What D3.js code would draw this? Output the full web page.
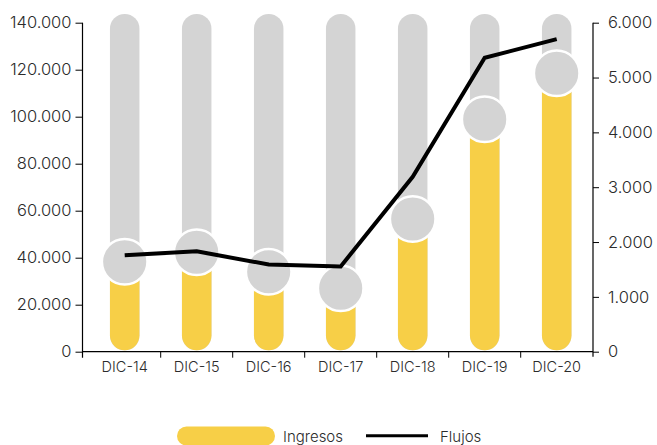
<!DOCTYPE html>
<html><head><meta charset="utf-8">
<script src="https://cdn.jsdelivr.net/npm/d3@7"></script>
<style>
html,body{margin:0;padding:0;background:#fff;}
svg{display:block;font-family:Inter,"Open Sans",sans-serif;}
</style></head>
<body><svg id="c" width="657" height="445"></svg>
<script>
const categories = ["DIC-14","DIC-15","DIC-16","DIC-17","DIC-18","DIC-19","DIC-20"];
const ingresos = [38300, 42300, 34000, 27000, 56500, 98900, 118500];
const flujos = [1760, 1830, 1590, 1555, 3190, 5360, 5700];
const backgroundMax = 143700;
const leftTicks = [0,20000,40000,60000,80000,100000,120000,140000];
const rightTicks = [0,1000,2000,3000,4000,5000,6000];
const legendLabels = ["Ingresos","Flujos"];

const loc = d3.formatLocale({decimal:",", thousands:".", grouping:[3], currency:["",""]});
const fmt = loc.format(",d");

const svg = d3.select("#c");
const yLeftX = 82.5, yRightX = 593, y0 = 351.7, yTop = 22.7;
const x = d3.scaleBand().domain(categories).range([88.7, 592.7]).paddingInner(0).paddingOuter(0);
const yL = d3.scaleLinear().domain([0,140000]).range([y0, yTop]);
const yR = d3.scaleLinear().domain([0,6000]).range([y0, yTop]);
const barW = 29.5;
const cx = d => x(d) + x.bandwidth()/2;

const gray = "#d4d4d4", yellow = "#f7cf47", txt = "#2b2b2b";

// background bars
svg.append("g").selectAll("rect").data(categories).join("rect")
  .attr("x", d => cx(d) - barW/2).attr("width", barW)
  .attr("y", yL(backgroundMax)).attr("height", yL(0) - 1.5 - yL(backgroundMax))
  .attr("rx", barW/2).attr("fill", gray);

// yellow bars
svg.append("g").selectAll("rect").data(ingresos).join("rect")
  .attr("x", (d,i) => cx(categories[i]) - barW/2).attr("width", barW)
  .attr("y", d => yL(d)).attr("height", d => yL(0) - 1.5 - yL(d))
  .attr("rx", barW/2).attr("fill", yellow);

// circles
svg.append("g").selectAll("circle").data(ingresos).join("circle")
  .attr("cx", (d,i) => cx(categories[i])).attr("cy", d => yL(d))
  .attr("r", 22.8).attr("fill", gray).attr("stroke", "#fff").attr("stroke-width", 2.5);

// line
const line = d3.line().x((d,i) => cx(categories[i])).y(d => yR(d));
svg.append("path").datum(flujos).attr("d", line)
  .attr("fill","none").attr("stroke","#000").attr("stroke-width",4).attr("stroke-linejoin","miter");

// left axis
const gL = svg.append("g").attr("transform",`translate(${yLeftX},0)`)
  .call(d3.axisLeft(yL).tickValues(leftTicks).tickFormat(fmt).tickSize(7).tickPadding(4));
gL.select(".domain").attr("d", `M0,${yTop}V${y0+6}`);
// right axis
const gR = svg.append("g").attr("transform",`translate(${yRightX},0)`)
  .call(d3.axisRight(yR).tickValues(rightTicks).tickFormat(fmt).tickSize(6).tickPadding(9));
gR.select(".domain").attr("d", `M0,${yTop}V${y0+5}`);
// bottom axis
const gB = svg.append("g").attr("transform",`translate(0,${y0})`)
  .call(d3.axisBottom(x).tickSize(0).tickPadding(10));
gB.select(".domain").attr("d", `M${yLeftX},0H${yRightX}`);
gB.selectAll(".sep").data(categories.slice(0,-1)).join("line").attr("class","sep")
  .attr("x1", d => x(d)+x.bandwidth()).attr("x2", d => x(d)+x.bandwidth())
  .attr("y1",0).attr("y2",6).attr("stroke","#000");

[gL,gR,gB].forEach(g => {
  g.selectAll(".domain").attr("stroke","#000").attr("stroke-width",1.2);
  g.selectAll(".tick line").attr("stroke","#000");
  g.selectAll("text").attr("fill",txt).style("font-family","Inter, sans-serif").style("font-weight","300");
});
gL.selectAll("text").style("font-size","16.5px");
gR.selectAll("text").style("font-size","16.5px");
gB.selectAll("text").style("font-size","14.5px");

// legend
const lg = svg.append("g").style("font-weight","300");
lg.append("rect").attr("x",177).attr("y",426.5).attr("width",98).attr("height",19).attr("rx",9.5).attr("fill",yellow);
lg.append("text").attr("x",283).attr("y",441.5).text(legendLabels[0]).attr("fill",txt).style("font-size","15px");
lg.append("line").attr("x1",366).attr("x2",428).attr("y1",435.7).attr("y2",435.7).attr("stroke","#000").attr("stroke-width",3);
lg.append("text").attr("x",440).attr("y",441.5).text(legendLabels[1]).attr("fill",txt).style("font-size","15px");
</script></body></html>
